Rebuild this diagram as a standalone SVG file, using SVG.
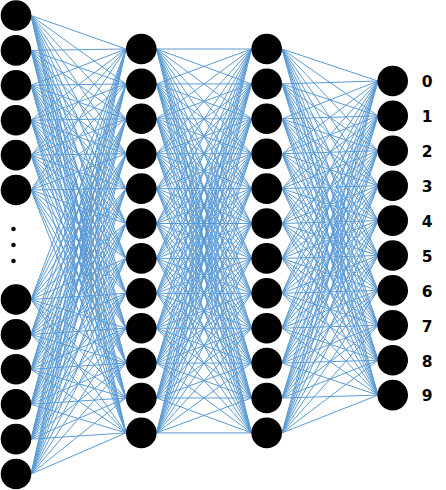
<svg xmlns="http://www.w3.org/2000/svg" width="446" height="490" viewBox="0 0 446 490">
<style>
.c{stroke:#5B9BD5;stroke-width:1;fill:none}
.n{fill:#000}
.d{fill:#000}
.t{font-family:"DejaVu Sans","Liberation Sans",sans-serif;font-weight:bold;font-size:15.5px;fill:#000;text-anchor:middle}
</style>
<rect width="446" height="490" fill="#fff"/>
<g id="connectors" class="c">
<path d="M31 15.5L126 49M31 15.5L126 83.9M31 15.5L126 118.8M31 15.5L126 153.7M31 15.5L126 188.6M31 15.5L126 223.5M31 15.5L126 258.4M31 15.5L126 293.3M31 15.5L126 328.2M31 15.5L126 363.1M31 15.5L126 398M31 15.5L126 432.9"/>
<path d="M31 50.4L126 49M31 50.4L126 83.9M31 50.4L126 118.8M31 50.4L126 153.7M31 50.4L126 188.6M31 50.4L126 223.5M31 50.4L126 258.4M31 50.4L126 293.3M31 50.4L126 328.2M31 50.4L126 363.1M31 50.4L126 398M31 50.4L126 432.9"/>
<path d="M31 85.3L126 49M31 85.3L126 83.9M31 85.3L126 118.8M31 85.3L126 153.7M31 85.3L126 188.6M31 85.3L126 223.5M31 85.3L126 258.4M31 85.3L126 293.3M31 85.3L126 328.2M31 85.3L126 363.1M31 85.3L126 398M31 85.3L126 432.9"/>
<path d="M31 120.2L126 49M31 120.2L126 83.9M31 120.2L126 118.8M31 120.2L126 153.7M31 120.2L126 188.6M31 120.2L126 223.5M31 120.2L126 258.4M31 120.2L126 293.3M31 120.2L126 328.2M31 120.2L126 363.1M31 120.2L126 398M31 120.2L126 432.9"/>
<path d="M31 155.1L126 49M31 155.1L126 83.9M31 155.1L126 118.8M31 155.1L126 153.7M31 155.1L126 188.6M31 155.1L126 223.5M31 155.1L126 258.4M31 155.1L126 293.3M31 155.1L126 328.2M31 155.1L126 363.1M31 155.1L126 398M31 155.1L126 432.9"/>
<path d="M31 190L126 49M31 190L126 83.9M31 190L126 118.8M31 190L126 153.7M31 190L126 188.6M31 190L126 223.5M31 190L126 258.4M31 190L126 293.3M31 190L126 328.2M31 190L126 363.1M31 190L126 398M31 190L126 432.9"/>
<path d="M31 299.5L126 49M31 299.5L126 83.9M31 299.5L126 118.8M31 299.5L126 153.7M31 299.5L126 188.6M31 299.5L126 223.5M31 299.5L126 258.4M31 299.5L126 293.3M31 299.5L126 328.2M31 299.5L126 363.1M31 299.5L126 398M31 299.5L126 432.9"/>
<path d="M31 334.4L126 49M31 334.4L126 83.9M31 334.4L126 118.8M31 334.4L126 153.7M31 334.4L126 188.6M31 334.4L126 223.5M31 334.4L126 258.4M31 334.4L126 293.3M31 334.4L126 328.2M31 334.4L126 363.1M31 334.4L126 398M31 334.4L126 432.9"/>
<path d="M31 369.3L126 49M31 369.3L126 83.9M31 369.3L126 118.8M31 369.3L126 153.7M31 369.3L126 188.6M31 369.3L126 223.5M31 369.3L126 258.4M31 369.3L126 293.3M31 369.3L126 328.2M31 369.3L126 363.1M31 369.3L126 398M31 369.3L126 432.9"/>
<path d="M31 404.2L126 49M31 404.2L126 83.9M31 404.2L126 118.8M31 404.2L126 153.7M31 404.2L126 188.6M31 404.2L126 223.5M31 404.2L126 258.4M31 404.2L126 293.3M31 404.2L126 328.2M31 404.2L126 363.1M31 404.2L126 398M31 404.2L126 432.9"/>
<path d="M31 439.1L126 49M31 439.1L126 83.9M31 439.1L126 118.8M31 439.1L126 153.7M31 439.1L126 188.6M31 439.1L126 223.5M31 439.1L126 258.4M31 439.1L126 293.3M31 439.1L126 328.2M31 439.1L126 363.1M31 439.1L126 398M31 439.1L126 432.9"/>
<path d="M31 474L126 49M31 474L126 83.9M31 474L126 118.8M31 474L126 153.7M31 474L126 188.6M31 474L126 223.5M31 474L126 258.4M31 474L126 293.3M31 474L126 328.2M31 474L126 363.1M31 474L126 398M31 474L126 432.9"/>

<path d="M156.5 49L251.5 49M156.5 49L251.5 83.9M156.5 49L251.5 118.8M156.5 49L251.5 153.7M156.5 49L251.5 188.6M156.5 49L251.5 223.5M156.5 49L251.5 258.4M156.5 49L251.5 293.3M156.5 49L251.5 328.2M156.5 49L251.5 363.1M156.5 49L251.5 398M156.5 49L251.5 432.9"/>
<path d="M156.5 83.9L251.5 49M156.5 83.9L251.5 83.9M156.5 83.9L251.5 118.8M156.5 83.9L251.5 153.7M156.5 83.9L251.5 188.6M156.5 83.9L251.5 223.5M156.5 83.9L251.5 258.4M156.5 83.9L251.5 293.3M156.5 83.9L251.5 328.2M156.5 83.9L251.5 363.1M156.5 83.9L251.5 398M156.5 83.9L251.5 432.9"/>
<path d="M156.5 118.8L251.5 49M156.5 118.8L251.5 83.9M156.5 118.8L251.5 118.8M156.5 118.8L251.5 153.7M156.5 118.8L251.5 188.6M156.5 118.8L251.5 223.5M156.5 118.8L251.5 258.4M156.5 118.8L251.5 293.3M156.5 118.8L251.5 328.2M156.5 118.8L251.5 363.1M156.5 118.8L251.5 398M156.5 118.8L251.5 432.9"/>
<path d="M156.5 153.7L251.5 49M156.5 153.7L251.5 83.9M156.5 153.7L251.5 118.8M156.5 153.7L251.5 153.7M156.5 153.7L251.5 188.6M156.5 153.7L251.5 223.5M156.5 153.7L251.5 258.4M156.5 153.7L251.5 293.3M156.5 153.7L251.5 328.2M156.5 153.7L251.5 363.1M156.5 153.7L251.5 398M156.5 153.7L251.5 432.9"/>
<path d="M156.5 188.6L251.5 49M156.5 188.6L251.5 83.9M156.5 188.6L251.5 118.8M156.5 188.6L251.5 153.7M156.5 188.6L251.5 188.6M156.5 188.6L251.5 223.5M156.5 188.6L251.5 258.4M156.5 188.6L251.5 293.3M156.5 188.6L251.5 328.2M156.5 188.6L251.5 363.1M156.5 188.6L251.5 398M156.5 188.6L251.5 432.9"/>
<path d="M156.5 223.5L251.5 49M156.5 223.5L251.5 83.9M156.5 223.5L251.5 118.8M156.5 223.5L251.5 153.7M156.5 223.5L251.5 188.6M156.5 223.5L251.5 223.5M156.5 223.5L251.5 258.4M156.5 223.5L251.5 293.3M156.5 223.5L251.5 328.2M156.5 223.5L251.5 363.1M156.5 223.5L251.5 398M156.5 223.5L251.5 432.9"/>
<path d="M156.5 258.4L251.5 49M156.5 258.4L251.5 83.9M156.5 258.4L251.5 118.8M156.5 258.4L251.5 153.7M156.5 258.4L251.5 188.6M156.5 258.4L251.5 223.5M156.5 258.4L251.5 258.4M156.5 258.4L251.5 293.3M156.5 258.4L251.5 328.2M156.5 258.4L251.5 363.1M156.5 258.4L251.5 398M156.5 258.4L251.5 432.9"/>
<path d="M156.5 293.3L251.5 49M156.5 293.3L251.5 83.9M156.5 293.3L251.5 118.8M156.5 293.3L251.5 153.7M156.5 293.3L251.5 188.6M156.5 293.3L251.5 223.5M156.5 293.3L251.5 258.4M156.5 293.3L251.5 293.3M156.5 293.3L251.5 328.2M156.5 293.3L251.5 363.1M156.5 293.3L251.5 398M156.5 293.3L251.5 432.9"/>
<path d="M156.5 328.2L251.5 49M156.5 328.2L251.5 83.9M156.5 328.2L251.5 118.8M156.5 328.2L251.5 153.7M156.5 328.2L251.5 188.6M156.5 328.2L251.5 223.5M156.5 328.2L251.5 258.4M156.5 328.2L251.5 293.3M156.5 328.2L251.5 328.2M156.5 328.2L251.5 363.1M156.5 328.2L251.5 398M156.5 328.2L251.5 432.9"/>
<path d="M156.5 363.1L251.5 49M156.5 363.1L251.5 83.9M156.5 363.1L251.5 118.8M156.5 363.1L251.5 153.7M156.5 363.1L251.5 188.6M156.5 363.1L251.5 223.5M156.5 363.1L251.5 258.4M156.5 363.1L251.5 293.3M156.5 363.1L251.5 328.2M156.5 363.1L251.5 363.1M156.5 363.1L251.5 398M156.5 363.1L251.5 432.9"/>
<path d="M156.5 398L251.5 49M156.5 398L251.5 83.9M156.5 398L251.5 118.8M156.5 398L251.5 153.7M156.5 398L251.5 188.6M156.5 398L251.5 223.5M156.5 398L251.5 258.4M156.5 398L251.5 293.3M156.5 398L251.5 328.2M156.5 398L251.5 363.1M156.5 398L251.5 398M156.5 398L251.5 432.9"/>
<path d="M156.5 432.9L251.5 49M156.5 432.9L251.5 83.9M156.5 432.9L251.5 118.8M156.5 432.9L251.5 153.7M156.5 432.9L251.5 188.6M156.5 432.9L251.5 223.5M156.5 432.9L251.5 258.4M156.5 432.9L251.5 293.3M156.5 432.9L251.5 328.2M156.5 432.9L251.5 363.1M156.5 432.9L251.5 398M156.5 432.9L251.5 432.9"/>

<path d="M282 49L378 81M282 49L378 115.9M282 49L378 150.8M282 49L378 185.7M282 49L378 220.6M282 49L378 255.5M282 49L378 290.4M282 49L378 325.3M282 49L378 360.2M282 49L378 395.1"/>
<path d="M282 83.9L378 81M282 83.9L378 115.9M282 83.9L378 150.8M282 83.9L378 185.7M282 83.9L378 220.6M282 83.9L378 255.5M282 83.9L378 290.4M282 83.9L378 325.3M282 83.9L378 360.2M282 83.9L378 395.1"/>
<path d="M282 118.8L378 81M282 118.8L378 115.9M282 118.8L378 150.8M282 118.8L378 185.7M282 118.8L378 220.6M282 118.8L378 255.5M282 118.8L378 290.4M282 118.8L378 325.3M282 118.8L378 360.2M282 118.8L378 395.1"/>
<path d="M282 153.7L378 81M282 153.7L378 115.9M282 153.7L378 150.8M282 153.7L378 185.7M282 153.7L378 220.6M282 153.7L378 255.5M282 153.7L378 290.4M282 153.7L378 325.3M282 153.7L378 360.2M282 153.7L378 395.1"/>
<path d="M282 188.6L378 81M282 188.6L378 115.9M282 188.6L378 150.8M282 188.6L378 185.7M282 188.6L378 220.6M282 188.6L378 255.5M282 188.6L378 290.4M282 188.6L378 325.3M282 188.6L378 360.2M282 188.6L378 395.1"/>
<path d="M282 223.5L378 81M282 223.5L378 115.9M282 223.5L378 150.8M282 223.5L378 185.7M282 223.5L378 220.6M282 223.5L378 255.5M282 223.5L378 290.4M282 223.5L378 325.3M282 223.5L378 360.2M282 223.5L378 395.1"/>
<path d="M282 258.4L378 81M282 258.4L378 115.9M282 258.4L378 150.8M282 258.4L378 185.7M282 258.4L378 220.6M282 258.4L378 255.5M282 258.4L378 290.4M282 258.4L378 325.3M282 258.4L378 360.2M282 258.4L378 395.1"/>
<path d="M282 293.3L378 81M282 293.3L378 115.9M282 293.3L378 150.8M282 293.3L378 185.7M282 293.3L378 220.6M282 293.3L378 255.5M282 293.3L378 290.4M282 293.3L378 325.3M282 293.3L378 360.2M282 293.3L378 395.1"/>
<path d="M282 328.2L378 81M282 328.2L378 115.9M282 328.2L378 150.8M282 328.2L378 185.7M282 328.2L378 220.6M282 328.2L378 255.5M282 328.2L378 290.4M282 328.2L378 325.3M282 328.2L378 360.2M282 328.2L378 395.1"/>
<path d="M282 363.1L378 81M282 363.1L378 115.9M282 363.1L378 150.8M282 363.1L378 185.7M282 363.1L378 220.6M282 363.1L378 255.5M282 363.1L378 290.4M282 363.1L378 325.3M282 363.1L378 360.2M282 363.1L378 395.1"/>
<path d="M282 398L378 81M282 398L378 115.9M282 398L378 150.8M282 398L378 185.7M282 398L378 220.6M282 398L378 255.5M282 398L378 290.4M282 398L378 325.3M282 398L378 360.2M282 398L378 395.1"/>
<path d="M282 432.9L378 81M282 432.9L378 115.9M282 432.9L378 150.8M282 432.9L378 185.7M282 432.9L378 220.6M282 432.9L378 255.5M282 432.9L378 290.4M282 432.9L378 325.3M282 432.9L378 360.2M282 432.9L378 395.1"/>
</g>

<g id="layer-input">
<circle id="in1" class="n" cx="16" cy="15.5" r="15.3"/>
<circle id="in2" class="n" cx="16" cy="50.4" r="15.3"/>
<circle id="in3" class="n" cx="16" cy="85.3" r="15.3"/>
<circle id="in4" class="n" cx="16" cy="120.2" r="15.3"/>
<circle id="in5" class="n" cx="16" cy="155.1" r="15.3"/>
<circle id="in6" class="n" cx="16" cy="190" r="15.3"/>
<g id="ellipsis">
<circle class="d" cx="13.5" cy="229" r="2.3"/>
<circle class="d" cx="13.5" cy="245" r="2.3"/>
<circle class="d" cx="13.5" cy="261" r="2.3"/>
</g>
<circle id="in7" class="n" cx="16" cy="299.5" r="15.3"/>
<circle id="in8" class="n" cx="16" cy="334.4" r="15.3"/>
<circle id="in9" class="n" cx="16" cy="369.3" r="15.3"/>
<circle id="in10" class="n" cx="16" cy="404.2" r="15.3"/>
<circle id="in11" class="n" cx="16" cy="439.1" r="15.3"/>
<circle id="in12" class="n" cx="16" cy="474" r="15.3"/>
</g>

<g id="layer-hidden1">
<circle id="h1_1" class="n" cx="141.3" cy="49" r="15.3"/>
<circle id="h1_2" class="n" cx="141.3" cy="83.9" r="15.3"/>
<circle id="h1_3" class="n" cx="141.3" cy="118.8" r="15.3"/>
<circle id="h1_4" class="n" cx="141.3" cy="153.7" r="15.3"/>
<circle id="h1_5" class="n" cx="141.3" cy="188.6" r="15.3"/>
<circle id="h1_6" class="n" cx="141.3" cy="223.5" r="15.3"/>
<circle id="h1_7" class="n" cx="141.3" cy="258.4" r="15.3"/>
<circle id="h1_8" class="n" cx="141.3" cy="293.3" r="15.3"/>
<circle id="h1_9" class="n" cx="141.3" cy="328.2" r="15.3"/>
<circle id="h1_10" class="n" cx="141.3" cy="363.1" r="15.3"/>
<circle id="h1_11" class="n" cx="141.3" cy="398" r="15.3"/>
<circle id="h1_12" class="n" cx="141.3" cy="432.9" r="15.3"/>
</g>

<g id="layer-hidden2">
<circle id="h2_1" class="n" cx="266.7" cy="49" r="15.3"/>
<circle id="h2_2" class="n" cx="266.7" cy="83.9" r="15.3"/>
<circle id="h2_3" class="n" cx="266.7" cy="118.8" r="15.3"/>
<circle id="h2_4" class="n" cx="266.7" cy="153.7" r="15.3"/>
<circle id="h2_5" class="n" cx="266.7" cy="188.6" r="15.3"/>
<circle id="h2_6" class="n" cx="266.7" cy="223.5" r="15.3"/>
<circle id="h2_7" class="n" cx="266.7" cy="258.4" r="15.3"/>
<circle id="h2_8" class="n" cx="266.7" cy="293.3" r="15.3"/>
<circle id="h2_9" class="n" cx="266.7" cy="328.2" r="15.3"/>
<circle id="h2_10" class="n" cx="266.7" cy="363.1" r="15.3"/>
<circle id="h2_11" class="n" cx="266.7" cy="398" r="15.3"/>
<circle id="h2_12" class="n" cx="266.7" cy="432.9" r="15.3"/>
</g>

<g id="layer-output">
<g id="out0"><circle class="n" cx="392.7" cy="81" r="15.3"/><text class="t" x="427.2" y="87.3">0</text></g>
<g id="out1"><circle class="n" cx="392.7" cy="115.9" r="15.3"/><text class="t" x="427.2" y="122.2">1</text></g>
<g id="out2"><circle class="n" cx="392.7" cy="150.8" r="15.3"/><text class="t" x="427.2" y="157.1">2</text></g>
<g id="out3"><circle class="n" cx="392.7" cy="185.7" r="15.3"/><text class="t" x="427.2" y="192">3</text></g>
<g id="out4"><circle class="n" cx="392.7" cy="220.6" r="15.3"/><text class="t" x="427.2" y="226.9">4</text></g>
<g id="out5"><circle class="n" cx="392.7" cy="255.5" r="15.3"/><text class="t" x="427.2" y="261.8">5</text></g>
<g id="out6"><circle class="n" cx="392.7" cy="290.4" r="15.3"/><text class="t" x="427.2" y="296.7">6</text></g>
<g id="out7"><circle class="n" cx="392.7" cy="325.3" r="15.3"/><text class="t" x="427.2" y="331.6">7</text></g>
<g id="out8"><circle class="n" cx="392.7" cy="360.2" r="15.3"/><text class="t" x="427.2" y="366.5">8</text></g>
<g id="out9"><circle class="n" cx="392.7" cy="395.1" r="15.3"/><text class="t" x="427.2" y="401.4">9</text></g>
</g>
</svg>
